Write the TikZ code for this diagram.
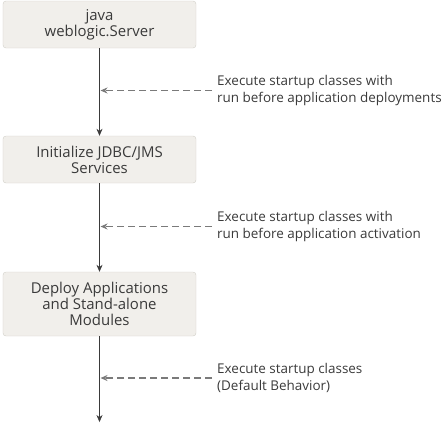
\documentclass[tikz,border=0pt]{standalone}
\usepackage{fontspec}
\setmainfont{Open Sans}
\usetikzlibrary{arrows.meta}
\definecolor{boxfill}{HTML}{F1EFEB}
\definecolor{boxline}{HTML}{D2CFC8}
\definecolor{inktext}{HTML}{3A3A3A}
\definecolor{hookgray}{HTML}{7A7A7A}
\begin{document}
\begin{tikzpicture}[x=1bp, y=-1bp, font=\fontsize{13.5}{17}\selectfont, text=inktext,
    box/.style={draw=boxline, fill=boxfill, rounded corners=3bp, minimum width=193bp, minimum height=47bp, align=center, font=\fontsize{15}{16}\selectfont},
    note/.style={anchor=west, align=left, inner sep=0pt},
    flow/.style={-{Stealth[length=7bp, width=6bp]}, semithick, draw=inktext},
    hook/.style={-{Stealth[length=7bp, width=6bp]}, dash pattern=on 7bp off 4bp, line width=1.8bp, draw=hookgray}]
        \useasboundingbox (0,0) rectangle (448,424);
        \node[box] (srv) at (99.5,24.5) {java\\weblogic.Server};
        \node[box, below of=srv, node distance=135bp] (init) {Initialize JDBC/JMS\\Services};
        \node[box, below of=init, node distance=144.5bp, minimum height=64bp] (mods) {Deploy Applications\\and Stand-alone\\Modules};
        \coordinate[below of=mods, node distance=118bp] (tail);

        \node[note] (predeploy) at (217,90.5) {Execute startup classes with\\run before application deployments};
        \node[note] (preact) at (217,226.5) {Execute startup classes with\\run before application activation};
        \node[note] (default) at (217,378) {Execute startup classes\\(Default Behavior)};

        \draw[flow] (srv) -- (init);
        \draw[flow] (init) -- (mods);
        \draw[flow] (mods) -- (tail);
        \draw[hook] ([xshift=-5bp]predeploy.west) -- ([xshift=1bp]srv.south |- predeploy.west);
        \draw[hook] ([xshift=-5bp]preact.west) -- ([xshift=1bp]init.south |- preact.west);
        \draw[hook] ([xshift=-5bp]default.west) -- ([xshift=1bp]mods.south |- default.west);
    \end{tikzpicture}
\end{document}
